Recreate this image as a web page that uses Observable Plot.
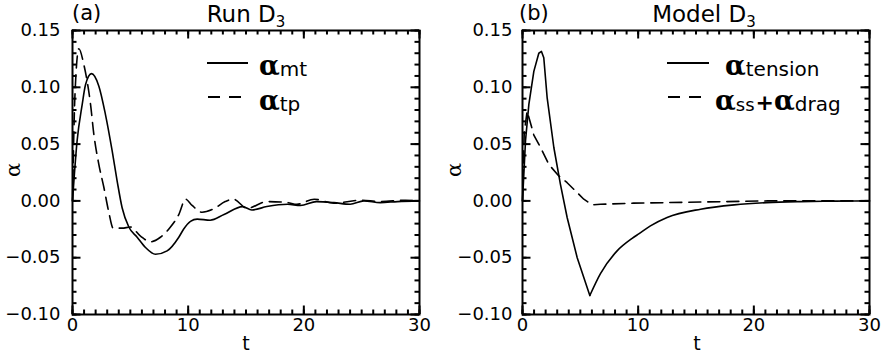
<!DOCTYPE html>
<html><head><meta charset="utf-8">
<script src="https://cdn.jsdelivr.net/npm/d3@7"></script>
<script src="https://cdn.jsdelivr.net/npm/@observablehq/plot@0.6"></script>
<style>
body{margin:0;background:#fff}
#chart{position:relative;width:885px;height:360px;overflow:hidden;background:#fff}
#chart > svg{position:absolute;top:0}
</style></head><body><div id="chart"></div>
<script>
// ---- Panel (a): Run D3 ----
const mtT = [0, 0.4, 0.84, 1.12, 1.64, 2.28, 2.85, 3.43, 3.86, 4.29, 4.87, 5.59, 6.31, 7.17, 8.18, 9.19, 9.6, 10.2, 10.78, 11.9, 13.1, 14.7, 15.5, 16.8, 18.6, 19.7, 21.1, 22.6, 24.0, 25.2, 26.6, 28.1, 30];
const mtV = [0, 0.053, 0.085, 0.102, 0.112, 0.101, 0.076, 0.044, 0.0175, -0.006, -0.023, -0.032, -0.041, -0.047, -0.044, -0.032, -0.025, -0.018, -0.016, -0.017, -0.012, -0.005, -0.008, -0.005, -0.003, -0.004, -0.0006, -0.0015, -0.003, 0, -0.0015, -0.0006, 0];
const tpT = [0, 0.2, 0.55, 0.98, 1.27, 1.56, 1.84, 2.28, 2.71, 3.14, 3.52, 4.29, 5.0, 5.88, 6.74, 7.6, 8.47, 9.19, 9.77, 10.34, 11.2, 12.2, 13.2, 13.9, 15.1, 16.8, 18.6, 19.4, 20.9, 22.6, 24.9, 26.6, 28.8, 30];
const tpV = [0, 0.09, 0.134, 0.120, 0.105, 0.085, 0.059, 0.032, 0.012, -0.010, -0.024, -0.024, -0.023, -0.031, -0.036, -0.032, -0.023, -0.012, 0.0015, -0.004, -0.010, -0.007, -0.0006, 0.0015, -0.0065, -0.0006, -0.0015, -0.003, 0.0015, -0.002, 0.0006, -0.0006, 0.0006, 0];

// ---- Panel (b): Model D3 ----
const tensionT = [0, 0.26, 0.55, 0.98, 1.41, 1.64, 1.84, 2.13, 2.71, 3.28, 3.86, 4.73, 5.82, 6.74, 8.18, 9.48, 10.05, 11.06, 12.5, 15.4, 18.3, 21.1, 24, 27, 30];
const tensionV = [0, 0.053, 0.085, 0.114, 0.130, 0.1316, 0.126, 0.091, 0.047, 0.0146, -0.0146, -0.050, -0.0833, -0.064, -0.044, -0.033, -0.029, -0.022, -0.0146, -0.0073, -0.0035, -0.0015, -0.0006, -0.0002, 0];
const tensionMinT = 5.82; // sharp minimum (corner) of the tension curve
const ssdragT = [0, 0.15, 0.4, 0.98, 1.56, 2.28, 3.14, 3.86, 4.58, 5.3, 6.02, 6.74, 9.6, 15.4, 21.2, 30];
const ssdragV = [0, 0.06, 0.079, 0.058, 0.047, 0.032, 0.022, 0.016, 0.0088, 0.0015, -0.0035, -0.003, -0.002, -0.001, 0, 0];

// ---- axes ----
const xDomain = [0, 30];
const yDomain = [-0.10, 0.15];
const xMajor = [0, 10, 20, 30];
const yMajor = [-0.10, -0.05, 0.00, 0.05, 0.10, 0.15];
const xMinor = d3.range(0, 31, 1);
const yMinor = d3.range(-10, 16).map(i => i / 100);

const SANS = "DejaVu Sans";
const SERIF = "DejaVu Serif";
const H = 360, MT = 30, MB = 46;

function tickRules(innerW, innerH) {
  const out = [], sw = 2;
  for (const [vals, len] of [[xMinor, 4.5], [xMajor, 8.5]]) {
    out.push(Plot.ruleX(vals, {x: d => d, insetTop: innerH - len, stroke: "black", strokeWidth: sw}));
    out.push(Plot.ruleX(vals, {x: d => d, insetBottom: innerH - len, stroke: "black", strokeWidth: sw}));
  }
  for (const [vals, len] of [[yMinor, 4.5], [yMajor, 8.5]]) {
    out.push(Plot.ruleY(vals, {y: d => d, insetRight: innerW - len, stroke: "black", strokeWidth: sw}));
    out.push(Plot.ruleY(vals, {y: d => d, insetLeft: innerW - len, stroke: "black", strokeWidth: sw}));
  }
  return out;
}

function panel({width, marginLeft, marginRight, lines, tickPad}) {
  const innerW = width - marginLeft - marginRight, innerH = H - MT - MB;
  const svg = Plot.plot({
    width, height: H,
    marginLeft, marginRight, marginTop: MT, marginBottom: MB,
    x: {domain: xDomain, ticks: xMajor, tickSize: 0, tickPadding: 4, label: null},
    y: {domain: yDomain, ticks: yMajor, tickSize: 0, tickPadding: tickPad, label: null, tickFormat: d3.format(".2f")},
    marks: [
      ...lines,
      ...tickRules(innerW, innerH),
      Plot.frame({stroke: "black", strokeWidth: 2})
    ]
  });
  d3.select(svg).attr("font-family", SANS).attr("font-size", 18).attr("fill", "black");
  return svg;
}

function rich(svg, x, y, parts, opts = {}) {
  const t = d3.select(svg).append("text").attr("x", x).attr("y", y)
    .attr("text-anchor", opts.anchor || "start").attr("fill", "black");
  if (opts.transform) t.attr("transform", opts.transform);
  let prev = 0;
  for (const p of parts) {
    const sh = p.sh || 0;
    t.append("tspan").attr("font-family", p.f || SANS).attr("font-size", p.s)
      .attr("font-weight", p.w || "normal")
      .attr("dy", sh - prev).attr("dx", p.dx || 0).text(p.t);
    prev = sh;
  }
}
function sample(svg, x1, x2, y, dash) {
  const l = d3.select(svg).append("line").attr("x1", x1).attr("x2", x2).attr("y1", y).attr("y2", y)
    .attr("stroke", "black").attr("stroke-width", 1.8);
  if (dash) l.attr("stroke-dasharray", dash);
}

const chart = document.getElementById("chart");
const LW = 1.6, DASH = "12,7";
const A = {t: "α", s: 27, f: SERIF, w: "bold"};

// Left panel (frame at page x 72..419)
const left = panel({width: 440, marginLeft: 72, marginRight: 21, tickPad: 12, lines: [
  Plot.line(mtT, {x: mtT, y: mtV, stroke: "black", strokeWidth: LW, curve: "monotone-x"}),
  Plot.line(tpT, {x: tpT, y: tpV, stroke: "black", strokeWidth: LW, curve: "monotone-x", strokeDasharray: DASH})
]});
left.style.left = "0px";
chart.appendChild(left);
rich(left, 72, 20, [{t: "(a)", s: 21}]);
rich(left, 246, 22, [{t: "Run D", s: 23}, {t: "3", s: 15, sh: 5}], {anchor: "middle"});
sample(left, 207, 248, 63);
sample(left, 208, 243, 97, "12,9");
rich(left, 259, 75, [A, {t: "mt", s: 20, sh: 1}]);
rich(left, 259, 110, [A, {t: "tp", s: 20, sh: 1}]);
rich(left, 246, 350, [{t: "t", s: 19}], {anchor: "middle"});
rich(left, 0, 0, [{t: "α", s: 21, f: SERIF}], {anchor: "middle", transform: "translate(20,170) rotate(-90)"});

// Right panel (svg starts at page x 440; frame at page x 522..869)
const tIdx = d3.range(tensionT.length);
const right = panel({width: 445, marginLeft: 82, marginRight: 16, tickPad: 10, lines: [
  Plot.line(tIdx, {x: i => tensionT[i], y: i => tensionV[i], filter: i => tensionT[i] <= tensionMinT, stroke: "black", strokeWidth: LW, curve: "linear"}),
  Plot.line(tIdx, {x: i => tensionT[i], y: i => tensionV[i], filter: i => tensionT[i] >= tensionMinT, stroke: "black", strokeWidth: LW, curve: "monotone-x"}),
  Plot.line(ssdragT, {x: ssdragT, y: ssdragV, stroke: "black", strokeWidth: LW, curve: "linear", strokeDasharray: DASH})
]});
right.style.left = "440px";
chart.appendChild(right);
rich(right, 79, 20, [{t: "(b)", s: 21}]);
rich(right, 264, 22, [{t: "Model D", s: 23}, {t: "3", s: 15, sh: 5}], {anchor: "middle"});
sample(right, 227, 269, 63);
sample(right, 228, 263, 97, "12,9");
rich(right, 285, 75, [A, {t: "tension", s: 20, sh: 1}]);
rich(right, 275, 110, [A, {t: "ss", s: 18, sh: 1}, {t: "+", s: 22, sh: 0, dx: 1, w: "bold"}, A, {t: "drag", s: 20, sh: 1}]);
rich(right, 257, 350, [{t: "t", s: 19}], {anchor: "middle"});
rich(right, 0, 0, [{t: "α", s: 21, f: SERIF}], {anchor: "middle", transform: "translate(21,170) rotate(-90)"});
</script></body></html>
